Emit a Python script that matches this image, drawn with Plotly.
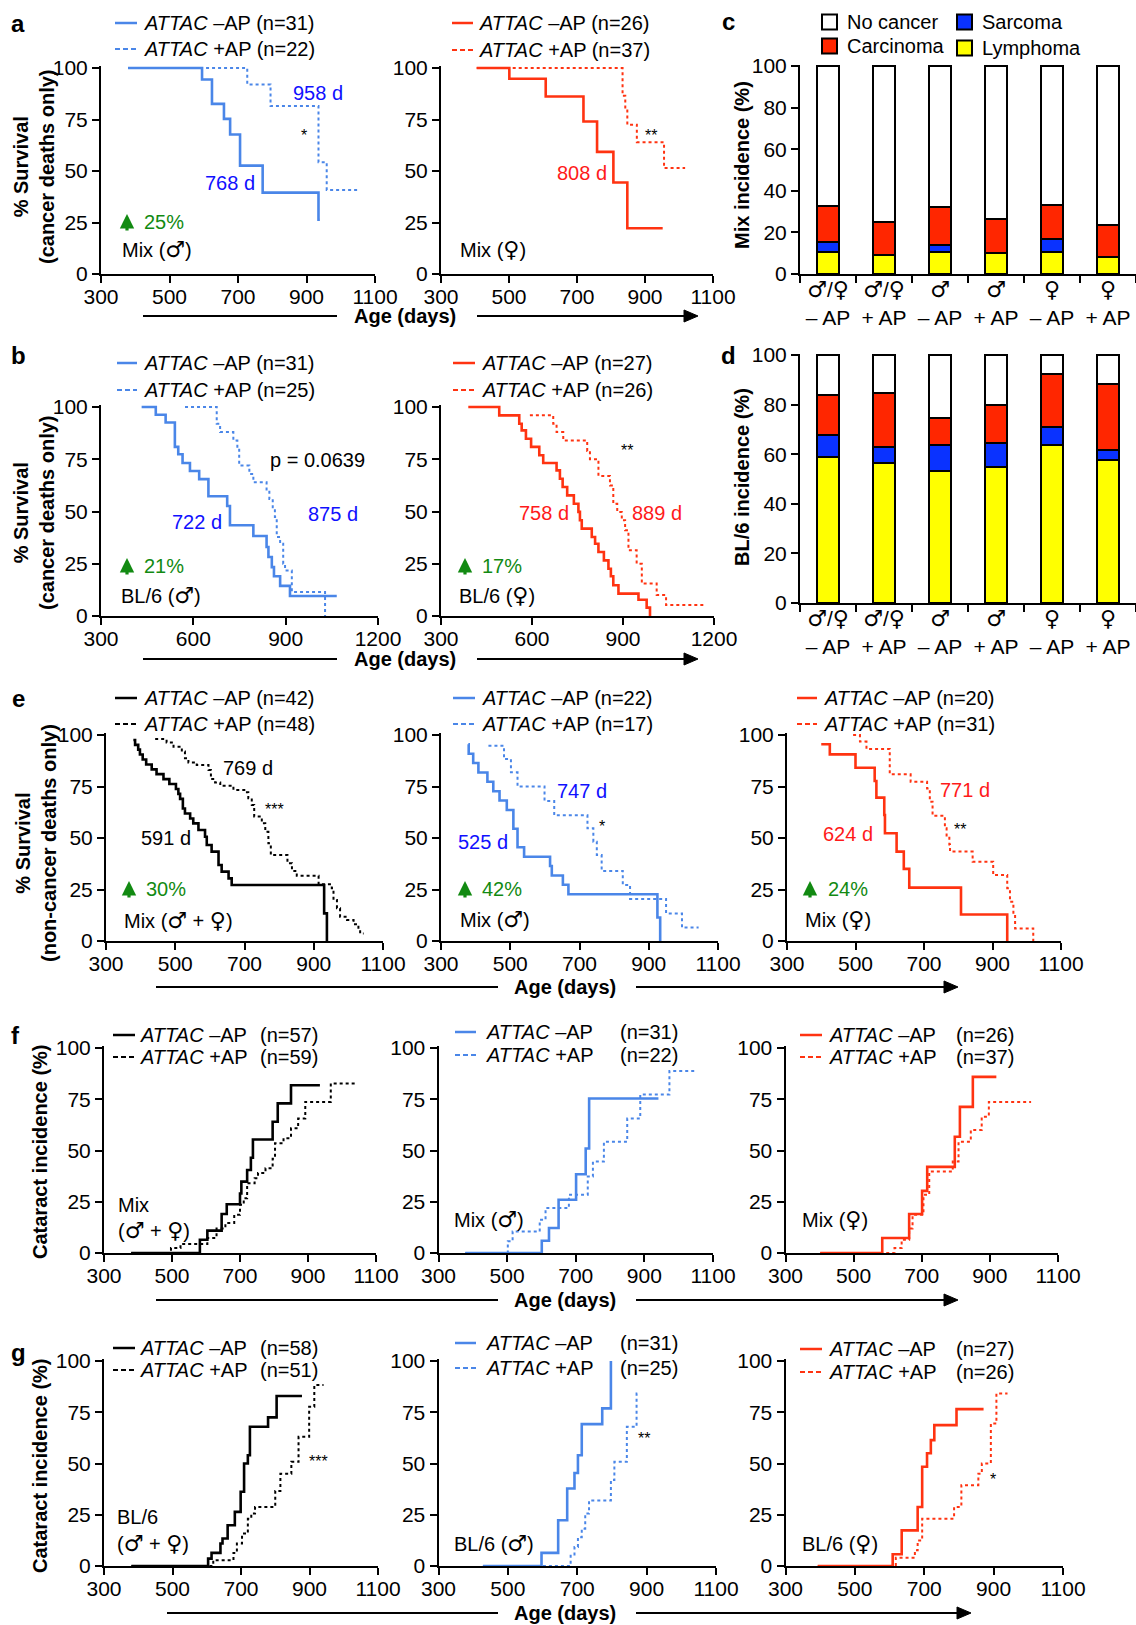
import plotly.graph_objects as go

W, H = 1136, 1625
FONT = "Liberation Sans, Arial, Helvetica, sans-serif"

BLUE = "#4a86e8"
RED = "#ff3311"
BLACK = "#000000"
TXT_BLUE = "#1010ff"
TXT_RED = "#ff1a1a"
GREEN = "#128a12"
C_YEL, C_BLU, C_RED, C_WHT = "#ffff00", "#0a32ff", "#ff2600", "#ffffff"

M = '<span style="font-family:DejaVu Sans;font-size:22px">♂</span>'
F = '<span style="font-family:DejaVu Sans;font-size:22px">♀</span>'

# ---------------- data ----------------
# a: Mix, cancer deaths only
AL_NEG_T = [379, 595, 624, 659, 677, 706, 772, 935, 939]
AL_NEG_S = [100, 94.4, 82.6, 75.3, 67.7, 52.6, 39.5, 26.3, 26.3]
AL_POS_T = [379, 727, 795, 935, 959, 1048]
AL_POS_S = [100, 92, 81.5, 54.2, 40.8, 40.8]
AR_NEG_T = [405, 501, 608, 719, 759, 807, 848, 952]
AR_NEG_S = [100, 94.8, 86.2, 74, 59.3, 44.4, 22.2, 22.2]
AR_POS_T = [405, 834, 842, 848, 876, 956, 1018]
AR_POS_S = [100, 86.5, 80, 72.5, 64, 51.4, 51.4]

# b: BL/6, cancer deaths only
BL_NEG_T = [432, 478, 510, 540, 551, 565, 589, 619, 649, 710, 719, 795, 838, 844, 855, 862, 882, 914, 1066]
BL_NEG_S = [100, 96.3, 92.6, 80.9, 77.4, 73.2, 69.4, 65.5, 57.3, 52.6, 43.4, 38.3, 33, 28.2, 23.4, 19, 14.4, 9.6, 9.6]
BL_POS_T = [573, 676, 687, 730, 743, 749, 782, 795, 838, 847, 858, 865, 871, 882, 892, 898, 920, 1028]
BL_POS_S = [100, 92, 88, 84, 80, 72, 68, 64, 60, 56, 52, 47.4, 37.8, 34.6, 25, 21.8, 11.5, 0]
BR_NEG_T = [390, 492, 558, 566, 580, 597, 624, 637, 681, 692, 701, 716, 738, 753, 758, 764, 797, 808, 819,
            837, 852, 860, 868, 885, 951, 978, 989]
BR_NEG_S = [100, 96, 92, 88.8, 84.8, 80.9, 76.9, 73.2, 69.7, 65.7, 61.7, 57.7, 53.7, 49.8, 45.8, 41.8, 37.8,
            34.6, 30.6, 26.6, 22.6, 19, 14.7, 10.7, 7.8, 4, 0]
BR_POS_T = [593, 670, 681, 703, 782, 791, 819, 857, 868, 881, 896, 907, 918, 945, 962, 1011, 1042, 1170]
BR_POS_S = [96, 92, 88, 84, 79, 75, 67, 62.5, 53.7, 49.8, 45.8, 41, 31.4, 25, 15.5, 10, 5.3, 5.3]

# c / d: tumour spectrum
CATS = [M + "/" + F + "<br>– AP", M + "/" + F + "<br>+ AP", M + "<br>– AP", M + "<br>+ AP",
        F + "<br>– AP", F + "<br>+ AP"]
C_LYMPH = [10.4, 9.0, 10.4, 10.2, 10.7, 8.2]
C_SARC = [4.8, 0, 3.7, 0, 5.9, 0]
C_CARC = [17.4, 15.8, 17.9, 16.2, 16.8, 15.6]
C_NONE = [67.4, 75.2, 68.0, 73.6, 66.6, 76.2]
D_LYMPH = [58.8, 56.4, 53.4, 54.9, 63.8, 57.5]
D_SARC = [8.8, 6.5, 10.4, 9.8, 7.3, 4.0]
D_CARC = [16.1, 21.6, 10.9, 15.1, 21.4, 26.9]
D_NONE = [16.3, 15.5, 25.3, 20.2, 7.5, 11.6]

# e: Mix, non-cancer deaths only
EL_NEG_T = [379, 384, 393, 398, 406, 416, 432, 446, 466, 483, 502, 509, 514, 522, 528, 543, 552, 567, 586, 591,
            605, 625, 634, 654, 663, 930, 938]
EL_NEG_S = [97.6, 95.2, 92.9, 90.5, 88.1, 85.7, 83.3, 81.0, 78.6, 76.2, 73.8, 71.4, 69.0, 64.3, 61.9, 59.5, 57.1,
            53.9, 50.6, 46.6, 43.4, 36.9, 33.7, 30.4, 27.2, 13.4, 0]
EL_POS_T = [442, 475, 495, 519, 528, 538, 562, 596, 603, 615, 630, 668, 707, 711, 721, 728, 750, 760, 769, 776,
            824, 837, 851, 914, 952, 957, 967, 976, 996, 1015, 1029, 1034, 1044]
EL_POS_S = [98, 96.4, 94.3, 92, 88.7, 86.7, 85.4, 83, 78.6, 77, 75.4, 73.3, 72.2, 69.3, 66, 60.4, 57.1, 53, 47.4,
            41.7, 37.7, 34, 31.7, 27.5, 25.6, 19.9, 15.9, 11.8, 10.2, 8.1, 5.3, 3.7, 3.7]
EM_NEG_T = [379, 380, 393, 408, 434, 451, 469, 490, 509, 521, 540, 615, 620, 652, 668, 925, 933]
EM_NEG_S = [95.5, 90.9, 86.4, 81.8, 77.3, 72.7, 68.2, 63.6, 54.5, 45.5, 40.9, 36.4, 31.8, 27.3, 22.7, 11.4, 0]
EM_POS_T = [437, 482, 502, 521, 599, 627, 723, 740, 750, 764, 825, 846, 950, 996, 1044]
EM_POS_S = [94.8, 88.3, 81.9, 75, 68, 61, 54.7, 48.2, 41.7, 34, 27.2, 20.4, 13.4, 6.5, 6.5]
ER_NEG_T = [400, 425, 500, 556, 561, 584, 586, 620, 641, 657, 808, 943]
ER_NEG_S = [95.5, 90.6, 84.1, 77.7, 69.6, 61.2, 52.3, 43.4, 35, 25.9, 12.9, 0]
ER_POS_T = [493, 513, 532, 600, 661, 709, 717, 725, 761, 766, 774, 776, 842, 902, 943, 951, 961, 966, 1019]
ER_POS_S = [100, 96.8, 93.2, 80.9, 77.3, 74, 67.6, 60.8, 54.7, 50.6, 46.9, 43.4, 38.5, 32, 25.6, 19, 12.9, 6.1, 0]

# f: cataract, Mix
FL_NEG_T = [380, 582, 604, 646, 661, 700, 704, 721, 732, 738, 796, 811, 850, 935]
FL_NEG_S = [0, 6.5, 10.9, 19, 23.8, 29, 34.8, 40.5, 46.5, 55.4, 64, 73, 81.8, 81.8]
FL_POS_T = [380, 497, 525, 604, 631, 657, 683, 700, 711, 721, 743, 753, 775, 796, 803, 828, 850, 871, 892, 967, 1046]
FL_POS_S = [0, 2.4, 4.4, 7.3, 12, 14.6, 18.6, 23.5, 26.7, 34, 36.5, 39, 41.3, 46, 53.5, 56, 60.8, 65.6, 73.7, 82.7, 82.7]
FM_NEG_T = [378, 601, 622, 650, 701, 729, 739, 941]
FM_NEG_S = [0, 6, 12.2, 26, 38.4, 51, 75.4, 75.4]
FM_POS_T = [378, 502, 516, 595, 612, 680, 735, 750, 782, 850, 888, 973, 1053]
FM_POS_S = [0, 5.7, 10.5, 16.2, 21.9, 28.4, 37.3, 44.6, 54.3, 65.6, 77.3, 88.8, 88.8]
FR_NEG_T = [402, 584, 663, 701, 716, 797, 812, 850, 919]
FR_NEG_S = [0, 7.3, 19, 30.3, 42, 56.7, 71.3, 85.9, 85.9]
FR_POS_T = [402, 620, 641, 663, 673, 705, 722, 791, 808, 844, 876, 897, 1021]
FR_POS_S = [0, 2.4, 6.5, 12, 18.6, 28.4, 39.7, 44.6, 54.3, 60, 66.5, 73.7, 73.7]

# g: cataract, BL/6
GL_NEG_T = [380, 604, 614, 640, 646, 661, 682, 699, 709, 720, 726, 779, 804, 878]
GL_NEG_S = [0, 3.6, 6.4, 11, 13.4, 19.9, 26.4, 36.2, 50, 54, 67.9, 72.5, 82.9, 82.9]
GL_POS_T = [380, 619, 678, 688, 703, 720, 730, 741, 800, 815, 847, 868, 899, 914, 941]
GL_POS_S = [0, 2.8, 6.4, 11, 15.8, 23, 25.6, 28.8, 36.6, 45, 50.8, 63, 77.7, 88.3, 88.3]
GM_NEG_T = [428, 597, 645, 671, 692, 702, 713, 772, 797]
GM_NEG_S = [0, 6.4, 22.3, 37.8, 45.4, 54, 69.2, 76.9, 100]
GM_POS_T = [428, 681, 692, 702, 713, 723, 734, 797, 807, 843, 871, 877]
GM_POS_S = [0, 5, 9.3, 14, 18.2, 25.6, 32, 41.9, 50.8, 67.9, 84.2, 84.2]
GR_NEG_T = [393, 609, 635, 681, 694, 708, 719, 729, 793, 871]
GR_NEG_S = [0, 5.7, 17.4, 28.8, 48.4, 55, 61.4, 68.7, 76.5, 76.5]
GR_POS_T = [393, 618, 673, 681, 694, 786, 807, 856, 866, 892, 908, 940]
GR_POS_S = [0, 4, 7.7, 12.5, 23.1, 28.8, 39.4, 45, 50, 69.5, 84.2, 84.2]

X_TICKS_1100 = [300, 500, 700, 900, 1100]
X_TICKS_1200 = [300, 600, 900, 1200]
Y_TICKS_SURV = [0, 25, 50, 75, 100]
Y_TICKS_BAR = [0, 20, 40, 60, 80, 100]

# ---------------- helpers ----------------
layout = {}
annotations = []
shapes = []
traces = []


def fx(p):
    return p / W


def fy(p):
    return 1 - p / H


AX_COMMON = dict(showline=True, linecolor="black", linewidth=2, ticks="outside", ticklen=7, tickwidth=2,
                 tickcolor="black", showgrid=False, zeroline=False, automargin=False,
                 tickfont=dict(family=FONT, size=21, color="black"), fixedrange=True)


def sfx(n):
    return "" if n == 1 else str(n)


def make_axes(n, xpx, xr, y0px, ytoppx, yr, xticks, yticks, xextra=None):
    s = sfx(n)
    xa = dict(AX_COMMON)
    xa.update(domain=[fx(xpx[0]), fx(xpx[1])], range=xr, anchor="y" + s, ticklabelstandoff=-4)
    if xticks is not None:
        xa.update(tickvals=xticks)
    if xextra:
        xa.update(xextra)
    ya = dict(AX_COMMON)
    ya.update(domain=[fy(y0px), fy(ytoppx)], range=yr, tickvals=yticks, anchor="x" + s)
    layout["xaxis" + s] = xa
    layout["yaxis" + s] = ya


def surv_axes(n, xpx, xr, y0px, y100px, xticks, top=101.0, below=False):
    ytop = y0px - (y0px - y100px) * top / 100.0
    extra = {"layer": "below traces"} if below else None
    make_axes(n, xpx, xr, y0px, ytop, [0, top], xticks, Y_TICKS_SURV, extra)


def curve(n, t, s, color, dotted):
    st = sfx(n)
    traces.append(go.Scatter(x=t, y=s, xaxis="x" + st, yaxis="y" + st, mode="lines",
                             line=dict(shape="hv", color=color, width=2.0 if dotted else 2.6,
                                       dash="dot" if dotted else "solid"),
                             hoverinfo="skip", showlegend=False))


def dtext(n, x, y, text, color="black", size=20, xanchor="center"):
    st = sfx(n)
    annotations.append(dict(xref="x" + st, yref="y" + st, x=x, y=y, text=text, showarrow=False,
                            font=dict(family=FONT, size=size, color=color), xanchor=xanchor, yanchor="middle"))


def ptext(xpx, ypx, text, size=20, color="black", xanchor="left", angle=0):
    annotations.append(dict(xref="paper", yref="paper", x=fx(xpx), y=fy(ypx), text=text, showarrow=False,
                            font=dict(family=FONT, size=size, color=color), xanchor=xanchor, yanchor="middle",
                            textangle=angle))


def pline(x0, y0, x1, y1, color="black", width=2, dash="solid"):
    shapes.append(dict(type="line", xref="paper", yref="paper", x0=fx(x0), y0=fy(y0), x1=fx(x1), y1=fy(y1),
                       line=dict(color=color, width=width, dash=dash)))


def legend2(xl0, xl1, xt, y1, y2, color, n1, n2, xn=None):
    pline(xl0, y1, xl1, y1, color, 2.5)
    pline(xl0, y2, xl1, y2, color, 2.2, "5px,3px")
    if xn is None:
        ptext(xt, y1, "<i>ATTAC</i> –AP (n=%s)" % n1)
        ptext(xt, y2, "<i>ATTAC</i> +AP (n=%s)" % n2)
    else:
        ptext(xt, y1, "<i>ATTAC</i> –AP")
        ptext(xt, y2, "<i>ATTAC</i> +AP")
        ptext(xn, y1, "(n=%s)" % n1)
        ptext(xn, y2, "(n=%s)" % n2)


def age_arrow(y, lx0, lx1, tx, rx0, tip):
    pline(lx0, y, lx1, y, "black", 2)
    pline(rx0, y, tip - 10, y, "black", 2)
    path = "M %f %f L %f %f L %f %f Z" % (fx(tip), fy(y), fx(tip - 14), fy(y - 6), fx(tip - 14), fy(y + 6))
    shapes.append(dict(type="path", xref="paper", yref="paper", path=path, fillcolor="black",
                       line=dict(color="black", width=1)))
    ptext(tx, y, "<b>Age (days)</b>", xanchor="center")


def gain(xa, ytop, xt, pct):
    # thick green up-arrow followed by the percentage gain
    annotations.append(dict(xref="paper", yref="paper", x=fx(xa), y=fy(ytop), ax=0, ay=18, text="",
                            showarrow=True, arrowhead=2, arrowsize=0.9, arrowwidth=3.2, arrowcolor=GREEN))
    ptext(xt, ytop + 8, pct, color=GREEN)


# ---------------- row a ----------------
surv_axes(1, (101, 375), [300, 1100], 274, 68, X_TICKS_1100)
curve(1, AL_POS_T, AL_POS_S, BLUE, True)
curve(1, AL_NEG_T, AL_NEG_S, BLUE, False)
dtext(1, 934, 88, "958 d", TXT_BLUE)
dtext(1, 677, 44, "768 d", TXT_BLUE)
dtext(1, 893, 67, "*", size=16)
gain(127, 214, 142, "25%")
dtext(1, 355, 12, "Mix (" + M + ")", xanchor="left")

surv_axes(2, (441, 713), [300, 1100], 274, 68, X_TICKS_1100)
curve(2, AR_POS_T, AR_POS_S, RED, True)
curve(2, AR_NEG_T, AR_NEG_S, RED, False)
dtext(2, 714, 49, "808 d", TXT_RED)
dtext(2, 917, 67, "**", size=16)
dtext(2, 351, 12, "Mix (" + F + ")", xanchor="left")

legend2(115, 137, 142, 23, 49, BLUE, 31, 22)
legend2(452, 473, 477, 23, 50, RED, 26, 37)

# ---------------- bars c / d ----------------
BAR_X = dict(type="category", tickson="boundaries", range=[-0.5, 5.5], categoryorder="array", categoryarray=CATS)
make_axes(3, (800, 1136), None, 274, 274 - 208 * 1.005, [0, 100.5], None, Y_TICKS_BAR, BAR_X)
make_axes(6, (800, 1136), None, 603, 603 - 248 * 1.005, [0, 100.5], None, Y_TICKS_BAR, BAR_X)

for n, series in ((3, (C_LYMPH, C_SARC, C_CARC, C_NONE)), (6, (D_LYMPH, D_SARC, D_CARC, D_NONE))):
    st = sfx(n)
    for vals, col in zip(series, (C_YEL, C_BLU, C_RED, C_WHT)):
        traces.append(go.Bar(x=CATS, y=vals, xaxis="x" + st, yaxis="y" + st, width=0.41,
                             marker=dict(color=col, line=dict(color="black", width=2)),
                             hoverinfo="skip", showlegend=False))

for (x0, yc, col, label) in ((822, 22, C_WHT, "No cancer"), (957, 22, C_BLU, "Sarcoma"),
                             (822, 46, C_RED, "Carcinoma"), (957, 48, C_YEL, "Lymphoma")):
    shapes.append(dict(type="rect", xref="paper", yref="paper", x0=fx(x0), x1=fx(x0 + 15),
                       y0=fy(yc + 7.5), y1=fy(yc - 7.5), fillcolor=col, line=dict(color="black", width=2)))
    ptext(x0 + 23, yc, label)

# ---------------- row b ----------------
surv_axes(4, (101, 378), [300, 1200], 616, 407, X_TICKS_1200)
curve(4, BL_POS_T, BL_POS_S, BLUE, True)
curve(4, BL_NEG_T, BL_NEG_S, BLUE, False)
dtext(4, 1005, 74.5, "p = 0.0639")
dtext(4, 1054, 49, "875 d", TXT_BLUE)
dtext(4, 611, 45, "722 d", TXT_BLUE)
gain(127, 558, 142, "21%")
dtext(4, 359, 10, "BL/6 (" + M + ")", xanchor="left")

surv_axes(5, (441, 714), [300, 1200], 616, 407, X_TICKS_1200)
curve(5, BR_POS_T, BR_POS_S, RED, True)
curve(5, BR_NEG_T, BR_NEG_S, RED, False)
dtext(5, 641, 49.3, "758 d", TXT_RED)
dtext(5, 1011, 49.3, "889 d", TXT_RED)
dtext(5, 912, 79, "**", size=16)
gain(465, 558, 480, "17%")
dtext(5, 354, 10, "BL/6 (" + F + ")", xanchor="left")

legend2(117, 137, 142, 363, 390, BLUE, 31, 25)
legend2(453, 475, 480, 363, 390, RED, 27, 26)

# ---------------- row e ----------------
surv_axes(7, (106, 383), [300, 1100], 941, 735, X_TICKS_1100)
curve(7, EL_POS_T, EL_POS_S, BLACK, True)
curve(7, EL_NEG_T, EL_NEG_S, BLACK, False)
dtext(7, 710, 83.8, "769 d")
dtext(7, 788, 64, "***", size=16)
dtext(7, 472, 49.8, "591 d")
gain(129, 881, 144, "30%")
dtext(7, 345, 10, "Mix (" + M + " + " + F + ")", xanchor="left")

surv_axes(8, (441, 718), [300, 1100], 941, 735, X_TICKS_1100)
curve(8, EM_POS_T, EM_POS_S, BLUE, True)
curve(8, EM_NEG_T, EM_NEG_S, BLUE, False)
dtext(8, 707, 72.8, "747 d", TXT_BLUE)
dtext(8, 766, 55.5, "*", size=16)
dtext(8, 420, 48.2, "525 d", TXT_BLUE)
gain(465, 881, 480, "42%")
dtext(8, 349, 10.2, "Mix (" + M + ")", xanchor="left")

surv_axes(9, (787, 1061), [300, 1100], 941, 735, X_TICKS_1100)
curve(9, ER_POS_T, ER_POS_S, RED, True)
curve(9, ER_NEG_T, ER_NEG_S, RED, False)
dtext(9, 820, 73.3, "771 d", TXT_RED)
dtext(9, 806, 53.9, "**", size=16)
dtext(9, 478, 51.8, "624 d", TXT_RED)
gain(810, 881, 826, "24%")
dtext(9, 348, 10.2, "Mix (" + F + ")", xanchor="left")

legend2(115, 137, 142, 698, 724, BLACK, 42, 48)
legend2(453, 475, 480, 698, 724, BLUE, 22, 17)
legend2(797, 817, 822, 698, 724, RED, 20, 31)

# ---------------- row f ----------------
surv_axes(10, (104, 376), [300, 1100], 1253, 1048, X_TICKS_1100, below=True)
curve(10, FL_POS_T, FL_POS_S, BLACK, True)
curve(10, FL_NEG_T, FL_NEG_S, BLACK, False)
dtext(10, 336, 23.5, "Mix", xanchor="left")
dtext(10, 336, 11, "(" + M + " + " + F + ")", xanchor="left")

surv_axes(11, (438.5, 713), [300, 1100], 1253, 1048, X_TICKS_1100, below=True)
curve(11, FM_POS_T, FM_POS_S, BLUE, True)
curve(11, FM_NEG_T, FM_NEG_S, BLUE, False)
dtext(11, 340, 16.2, "Mix (" + M + ")", xanchor="left")

surv_axes(12, (785.5, 1058), [300, 1100], 1253, 1048, X_TICKS_1100, below=True)
curve(12, FR_POS_T, FR_POS_S, RED, True)
curve(12, FR_NEG_T, FR_NEG_S, RED, False)
dtext(12, 342, 16.2, "Mix (" + F + ")", xanchor="left")

legend2(113, 135, 138, 1035, 1057, BLACK, 57, 59, xn=258)
legend2(455, 476, 484, 1032, 1055, BLUE, 31, 22, xn=618)
legend2(800, 822, 827, 1035, 1057, RED, 26, 37, xn=954)

# ---------------- row g ----------------
surv_axes(13, (104, 378), [300, 1100], 1566, 1361, X_TICKS_1100, below=True)
curve(13, GL_POS_T, GL_POS_S, BLACK, True)
curve(13, GL_NEG_T, GL_NEG_S, BLACK, False)
dtext(13, 927, 50.8, "***", size=16)
dtext(13, 332, 23.9, "BL/6", xanchor="left")
dtext(13, 332, 10.9, "(" + M + " + " + F + ")", xanchor="left")

surv_axes(14, (438.5, 716), [300, 1100], 1566, 1361, X_TICKS_1100, below=True)
curve(14, GM_POS_T, GM_POS_S, BLUE, True)
curve(14, GM_NEG_T, GM_NEG_S, BLUE, False)
dtext(14, 892, 62.2, "**", size=16)
dtext(14, 340, 10.9, "BL/6 (" + M + ")", xanchor="left")

surv_axes(15, (785.5, 1063), [300, 1100], 1566, 1361, X_TICKS_1100, below=True)
curve(15, GR_POS_T, GR_POS_S, RED, True)
curve(15, GR_NEG_T, GR_NEG_S, RED, False)
dtext(15, 898, 42.2, "*", size=16)
dtext(15, 341, 10.9, "BL/6 (" + F + ")", xanchor="left")

legend2(113, 135, 138, 1348, 1370, BLACK, 58, 51, xn=258)
legend2(455, 476, 484, 1343, 1368, BLUE, 31, 25, xn=618)
legend2(800, 822, 827, 1349, 1372, RED, 27, 26, xn=954)

# ---------------- axis titles, panel letters, age arrows ----------------
ptext(34, 167, "<b>% Survival</b><br><b>(cancer deaths only)</b>", xanchor="center", angle=-90)
ptext(34, 513, "<b>% Survival</b><br><b>(cancer deaths only)</b>", xanchor="center", angle=-90)
ptext(36, 843, "<b>% Survival</b><br><b>(non-cancer deaths only)</b>", xanchor="center", angle=-90)
ptext(742, 165, "<b>Mix incidence (%)</b>", xanchor="center", angle=-90)
ptext(742, 477, "<b>BL/6 incidence (%)</b>", xanchor="center", angle=-90)
ptext(40, 1152, "<b>Cataract incidence (%)</b>", xanchor="center", angle=-90)
ptext(40, 1466, "<b>Cataract incidence (%)</b>", xanchor="center", angle=-90)

for lt, x, y in (("a", 18, 24), ("b", 18, 355), ("c", 728, 22), ("d", 728, 355), ("e", 18, 698),
                 ("f", 15, 1035), ("g", 18, 1352)):
    ptext(x, y, "<b>%s</b>" % lt, size=24, xanchor="center")

age_arrow(316, 143, 337, 405, 477, 698)
age_arrow(659, 143, 337, 405, 477, 698)
age_arrow(987, 156, 498, 565, 636, 958)
age_arrow(1300, 156, 498, 565, 636, 958)
age_arrow(1613, 167, 498, 565, 636, 971)

fig = go.Figure(data=traces)
fig.update_layout(template="none", width=W, height=H,
                  margin=dict(l=0, r=0, t=0, b=0, pad=0, autoexpand=False),
                  paper_bgcolor="white", plot_bgcolor="white", barmode="stack", showlegend=False,
                  font=dict(family=FONT, size=20, color="black"),
                  annotations=annotations, shapes=shapes, **layout)
fig.write_html("out.html", config={"displayModeBar": False},
               post_script="document.body.style.margin='0';document.body.style.overflow='hidden';")
